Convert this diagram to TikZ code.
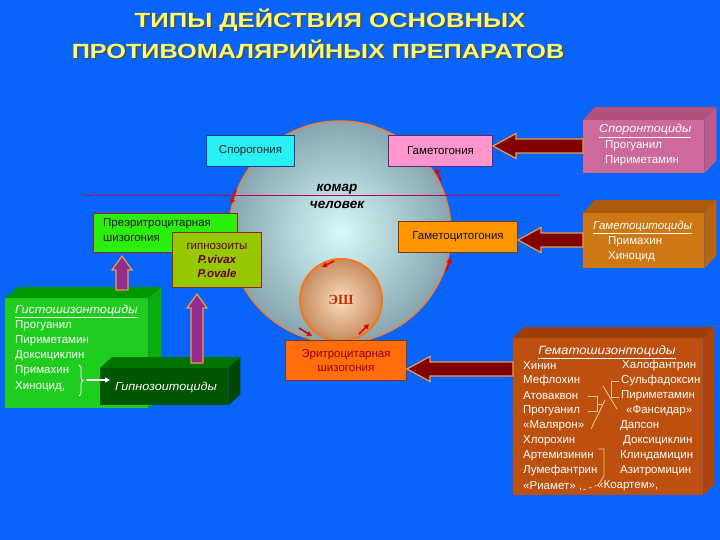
\documentclass[tikz,border=0pt]{standalone}
\usepackage{fontspec}
\setmainfont{Liberation Sans}
\newfontfamily\serifcyr{Liberation Serif}
\usetikzlibrary{calc,arrows.meta,decorations.pathreplacing}

\definecolor{bg}{RGB}{8,100,250}
\definecolor{ttl}{RGB}{255,255,110}
\definecolor{arrred}{RGB}{128,0,0}
\definecolor{arredge}{RGB}{235,160,70}
\definecolor{arrpur}{RGB}{150,45,140}
\definecolor{linemag}{RGB}{190,0,90}
\definecolor{cyanbox}{RGB}{40,240,245}
\definecolor{pinkbox}{RGB}{255,150,205}
\definecolor{orbox}{RGB}{255,150,0}
\definecolor{erybox}{RGB}{255,110,10}
\definecolor{prebox}{RGB}{40,240,10}
\definecolor{gipbox}{RGB}{150,200,0}
\definecolor{histF}{RGB}{30,205,30}
\definecolor{histT}{RGB}{0,150,0}
\definecolor{histS}{RGB}{10,175,10}
\definecolor{hypF}{RGB}{0,85,0}
\definecolor{hypT}{RGB}{0,115,0}
\definecolor{hypS}{RGB}{0,70,0}
\definecolor{spoF}{RGB}{205,105,155}
\definecolor{spoT}{RGB}{175,80,125}
\definecolor{spoS}{RGB}{190,90,140}
\definecolor{gamF}{RGB}{205,120,20}
\definecolor{gamT}{RGB}{170,92,10}
\definecolor{gamS}{RGB}{185,100,15}
\definecolor{hemF}{RGB}{190,80,15}
\definecolor{hemT}{RGB}{160,62,10}
\definecolor{hemS}{RGB}{172,68,12}
\definecolor{brk}{RGB}{255,195,130}

\newcommand\blockL[3]{%
  \draw[bigarr] let \p1=(#1), \p2=(#2), \p3=(0,#3) in
   (\x2,\y3) -- (\x2+23pt,\y3+12.5pt) -- (\x2+23pt,\y3+7pt) -- (\x1,\y3+7pt)
   -- (\x1,\y3-7pt) -- (\x2+23pt,\y3-7pt) -- (\x2+23pt,\y3-12.5pt) -- cycle;}
\newcommand\blockU[3]{%
  \draw[vertarr] let \p1=(#1), \p2=(#2), \p3=(#3,0) in
   (\x3,\y2) -- (\x3+10pt,\y2-14pt) -- (\x3+6pt,\y2-14pt) -- (\x3+6pt,\y1)
   -- (\x3-6pt,\y1) -- (\x3-6pt,\y2-14pt) -- (\x3-10pt,\y2-14pt) -- cycle;}
\newcommand\wide[1]{\scalebox{1.1}[1]{#1}}

\tikzset{
  procbox/.style={draw, line width=1pt, anchor=north west, inner sep=0pt},
  front/.style={anchor=north west, inner sep=0pt},
  bigarr/.style={fill=arrred, draw=arredge, line width=1.2pt, line join=miter},
  vertarr/.style={fill=arrpur, draw=arredge, line width=1.2pt, line join=miter},
  redtick/.style={red!90!black, line width=1.6pt, -{Triangle[length=5pt,width=5pt]}},
  ttlstyle/.style={font=\fontsize{20.5}{24}\bfseries\selectfont, inner sep=0pt},
  wtxt/.style={white, anchor=west, inner sep=0pt, font=\fontsize{11.5}{13}\selectfont},
  brkline/.style={brk, line width=0.8pt},
}

\begin{document}
\begin{tikzpicture}[x=1pt,y=-1pt, font=\fontsize{11.5}{13}\selectfont]
\useasboundingbox (0,0) rectangle (720,540);
\fill[bg] (0,0) rectangle (720,540);

% title
\node[ttlstyle, text=black!70] (t1s) at (331.5,21.5) {\scalebox{1.25}[1]{ТИПЫ  ДЕЙСТВИЯ  ОСНОВНЫХ}};
\node[ttlstyle, text=ttl] (t1) at (330,20) {\scalebox{1.25}[1]{ТИПЫ  ДЕЙСТВИЯ  ОСНОВНЫХ}};
\node[ttlstyle, text=black!70] (t2s) at (319.5,50.5) {\scalebox{1.23}[1]{ПРОТИВОМАЛЯРИЙНЫХ  ПРЕПАРАТОВ}};
\node[ttlstyle, text=ttl] (t2) at (318,49) {\scalebox{1.23}[1]{ПРОТИВОМАЛЯРИЙНЫХ  ПРЕПАРАТОВ}};

% big circle
\node[circle, minimum size=222pt, inner sep=0pt, draw={rgb,255:red,240;green,130;blue,50}, line width=1.5pt,
  inner color={rgb,255:red,215;green,250;blue,250}, outer color={rgb,255:red,135;green,165;blue,175}] (big) at (340,232) {};

% dividing line
\draw[linemag, line width=1pt] (85,196) coordinate (l1) -- (560,196) coordinate (l2);
\node[font=\fontsize{13.5}{15}\bfseries\itshape\selectfont, inner sep=0pt] (komar) at (337,189) {комар};
\node[font=\fontsize{13.5}{15}\bfseries\itshape\selectfont, inner sep=0pt] (chel) at (337,205) {человек};

% small circle
\node[circle, minimum size=82pt, inner sep=0pt, draw={rgb,255:red,240;green,120;blue,30}, line width=2pt,
  inner color={rgb,255:red,250;green,220;blue,190}, outer color={rgb,255:red,200;green,140;blue,95},
  font=\serifcyr\fontsize{14}{16}\bfseries\selectfont, text={rgb,255:red,205;green,40;blue,0}] (esh) at (341,300) {ЭШ};

% stage boxes
\node[procbox, fill=cyanbox, draw={rgb,255:red,20;green,60;blue,140}, minimum width=88pt, minimum height=31pt,
  text=black!85] (sporog) at (206,135) {Спорогония};
\node[procbox, fill=pinkbox, draw={rgb,255:red,90;green,40;blue,120}, minimum width=104pt, minimum height=31pt]
  (gametog) at (388,135) {Гаметогония};
\node[procbox, fill=orbox, draw={rgb,255:red,120;green,60;blue,20}, minimum width=119pt, minimum height=31pt,
  text={rgb,255:red,20;green,20;blue,60}] (gcytog) at (398,221) {Гаметоцитогония};
\node[procbox, fill=erybox, draw={rgb,255:red,110;green,60;blue,40}, minimum width=121pt, minimum height=40pt,
  text={rgb,255:red,150;green,0;blue,0}, align=center] (eryth) at (285,340) {Эритроцитарная\\[1pt]шизогония};
\node[procbox, fill=prebox, draw={rgb,255:red,150;green,40;blue,20}, minimum width=144pt, minimum height=39pt] (pre) at (93,213) {};
\node[anchor=north west, inner sep=0pt, align=left, text={rgb,255:red,40;green,20;blue,40}] (pretext)
  at ($(pre.north west)+(10,5)$) {Преэритроцитарная\\[2pt]шизогония};
\node[procbox, fill=gipbox, draw={rgb,255:red,150;green,40;blue,20}, minimum width=89pt, minimum height=55pt,
  align=center, text={rgb,255:red,100;green,0;blue,50}] (gipn) at (172,232)
  {гипнозоиты\\[1pt]{\bfseries\itshape P.vivax}\\[1pt]{\bfseries\itshape P.ovale}};

% 3D boxes
% histoschizontocides
\node[front, fill=histF, minimum width=143pt, minimum height=110pt] (histo) at (5,298) {};
\fill[histT] (histo.north west) -- ++(13,-11) -- ($(histo.north east)+(13,-11)$) -- (histo.north east) -- cycle;
\fill[histS] (histo.north east) -- ++(13,-11) -- ($(histo.south east)+(13,-11)$) -- (histo.south east) -- cycle;
\node[wtxt] (h0) at (15,311) {\underline{\wide{\itshape Гистошизонтоциды}}};
\node[wtxt] (h1) at (15,326) {Прогуанил};
\node[wtxt] (h2) at (15,341) {Пириметамин};
\node[wtxt] (h3) at (15,356) {Доксициклин};
\node[wtxt] (h4) at (15,371) {Примахин};
\node[wtxt] (h5) at (15,387) {Хиноцид,};
\draw[white, line width=0.8pt, decorate, decoration={brace, amplitude=4pt}] (79,365) -- (79,396);
\coordinate (wa1) at (86,380);
\coordinate (wa2) at (110,380);

% hypnozoitocides
\node[front, fill=hypF, minimum width=128pt, minimum height=37pt] (hypno) at (100,368) {};
\fill[hypT] (hypno.north west) -- ++(12,-11) -- ($(hypno.north east)+(12,-11)$) -- (hypno.north east) -- cycle;
\fill[hypS] (hypno.north east) -- ++(12,-11) -- ($(hypno.south east)+(12,-11)$) -- (hypno.south east) -- cycle;
\draw[white, line width=1.5pt, -{Triangle[length=5pt,width=5pt]}] (wa1) -- (wa2);
\node[white, inner sep=0pt, font=\fontsize{11.5}{13}\itshape\selectfont] (hyptext) at (166,387) {\wide{Гипнозоитоциды}};

% sporontocides
\node[front, fill=spoF, minimum width=121pt, minimum height=53pt] (sporo) at (583,120) {};
\fill[spoT] (sporo.north west) -- ++(12,-13) -- ($(sporo.north east)+(12,-13)$) -- (sporo.north east) -- cycle;
\fill[spoS] (sporo.north east) -- ++(12,-13) -- ($(sporo.south east)+(12,-13)$) -- (sporo.south east) -- cycle;
\node[wtxt] (s0) at (599,131) {\underline{\wide{\itshape Споронтоциды}}};
\node[wtxt] (s1) at (605,146) {Прогуанил};
\node[wtxt] (s2) at (605,161) {Пириметамин};

% gametocytocides
\node[front, fill=gamF, minimum width=121pt, minimum height=55pt] (gameto) at (583,213) {};
\fill[gamT] (gameto.north west) -- ++(12,-13) -- ($(gameto.north east)+(12,-13)$) -- (gameto.north east) -- cycle;
\fill[gamS] (gameto.north east) -- ++(12,-13) -- ($(gameto.south east)+(12,-13)$) -- (gameto.south east) -- cycle;
\node[wtxt] (g0) at (593,227) {\underline{{\itshape Гаметоцитоциды}}};
\node[wtxt] (g1) at (608,242) {Примахин};
\node[wtxt] (g2) at (608,257) {Хиноцид};

% hematoschizontocides
\node[front, fill=hemF, minimum width=190pt, minimum height=157pt] (hemato) at (513,338) {};
\fill[hemT] (hemato.north west) -- ++(11,-11) -- ($(hemato.north east)+(11,-11)$) -- (hemato.north east) -- cycle;
\fill[hemS] (hemato.north east) -- ++(11,-11) -- ($(hemato.south east)+(11,-11)$) -- (hemato.south east) -- cycle;
\node[white, inner sep=0pt, font=\fontsize{12}{13}\selectfont] (e0) at (607,352) {\underline{\wide{\itshape Гематошизонтоциды}}};
\foreach \t [count=\i] in {Хинин,Мефлохин,Атоваквон,Прогуанил,«Малярон»,Хлорохин,Артемизинин,Лумефантрин,{«Риамет» ,}}
  \node[wtxt] (el\i) at (523,351+15*\i) {\t};
\foreach \t/\xx [count=\i] in {Халофантрин/622,Сульфадоксин/621,Пириметамин/621,«Фансидар»/626,Дапсон/620,Доксициклин/623,Клиндамицин/620,Азитромицин/620,{«Коартем»,}/597}
  \node[wtxt] (er\i) at (\xx,351+15*\i) {\t};
% bracket lines
\draw[brkline] (588,396) -- (597,396) -- (597,411) -- (588,411);
\draw[brkline] (597,404) -- (602,404);
\draw[brkline] (605,400) -- (591,429);
\draw[brkline] (619,381) -- (611,381) -- (611,397) -- (619,397);
\draw[brkline] (603,386) -- (617,409);
\draw[brkline] (598,449) -- (604,449) -- (604,476) -- (599,484);
\draw[brkline, dashed] (583,490) -- (598,485);

% block arrows
\blockL{sporo.west}{gametog.east}{146}
\blockL{gameto.west}{gcytog.east}{240}
\blockL{hemato.west}{eryth.east}{369}
\blockU{$(histo.north)+(0,-8)$}{$(pre.south)+(0,3)$}{122}
\blockU{$(hypno.north)+(0,-5)$}{$(gipn.south)+(0,6)$}{197}

% red direction marks on circles
\draw[redtick] (236,190) -- (231,204);
\draw[redtick] (441,181) -- (436,168);
\draw[redtick] (446,271) -- (451,258);
\draw[redtick] (334,261) -- (322,267);
\draw[redtick] (299,328) -- (312,336);
\draw[redtick] (359,334) -- (369,324);
\end{tikzpicture}
\end{document}
